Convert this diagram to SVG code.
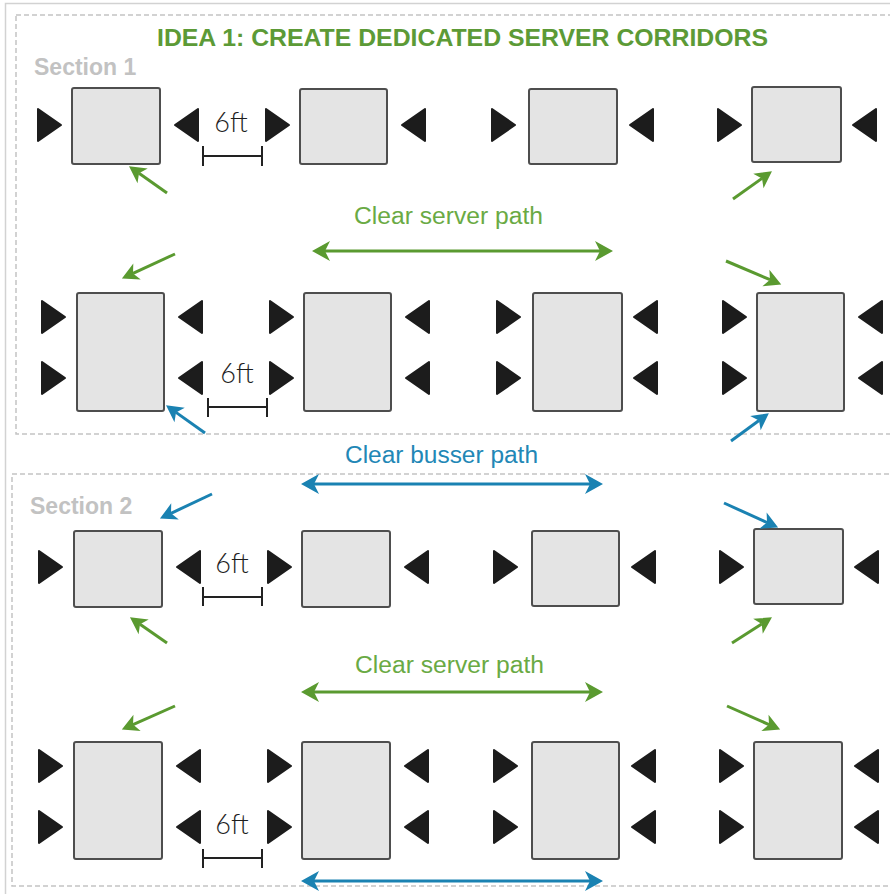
<svg xmlns="http://www.w3.org/2000/svg" width="890" height="894" viewBox="0 0 890 894">
  <style>
    .frame { fill: none; stroke: #d2d2d2; stroke-width: 1.5; }
    .section { fill: none; stroke: #c4c4c4; stroke-width: 1.5; stroke-dasharray: 5 3; }
    .table { fill: #e4e4e4; stroke: #4e4e4e; stroke-width: 2; }
    .chair { fill: #1c1c1c; stroke: #1c1c1c; stroke-width: 2; stroke-linejoin: round; }
    .title { font-family: "Liberation Sans", Arial, sans-serif; font-weight: bold; font-size: 24.5px; fill: #5c9a36; }
    .sect { font-family: "Liberation Sans", Arial, sans-serif; font-weight: bold; font-size: 23px; fill: #c2c2c2; }
    .lbl-g { font-family: "Liberation Sans", Arial, sans-serif; font-size: 23px; fill: #6aaa44; }
    .lbl-b { font-family: "Liberation Sans", Arial, sans-serif; font-size: 23px; fill: #2287b6; }
    .dim-t { font-family: Lato, "Open Sans", "Liberation Sans", sans-serif; font-weight: 300; font-size: 27px; fill: #1e1e1e; text-anchor: middle; }
    .dim { fill: none; stroke: #222; stroke-width: 2; }
    .g { stroke: #5a9a30; fill: none; stroke-width: 3; }
    .b { stroke: #1a82b2; fill: none; stroke-width: 3; }
  </style>
  <defs>
    <polygon id="cr" class="chair" points="0,-16 23,0 0,16"/>
    <polygon id="cl" class="chair" points="23,-16 0,0 23,16"/>
    <marker id="hg" markerUnits="userSpaceOnUse" markerWidth="20" markerHeight="20" refX="4" refY="0" viewBox="0 -9 16 18" orient="auto">
      <path d="M15,0 L0,-8 L4,0 L0,8 Z" fill="#5a9a30"/>
    </marker>
    <marker id="hb" markerUnits="userSpaceOnUse" markerWidth="20" markerHeight="20" refX="4" refY="0" viewBox="0 -9 16 18" orient="auto">
      <path d="M15,0 L0,-8 L4,0 L0,8 Z" fill="#1a82b2"/>
    </marker>
    <marker id="dg" markerUnits="userSpaceOnUse" markerWidth="22" markerHeight="22" refX="5" refY="0" viewBox="0 -11 19 22" orient="auto-start-reverse">
      <path d="M18,0 L0,-10 L5,0 L0,10 Z" fill="#5a9a30"/>
    </marker>
    <marker id="db" markerUnits="userSpaceOnUse" markerWidth="22" markerHeight="22" refX="5" refY="0" viewBox="0 -11 19 22" orient="auto-start-reverse">
      <path d="M18,0 L0,-10 L5,0 L0,10 Z" fill="#1a82b2"/>
    </marker>
  </defs>

  <!-- page frame and section outlines -->
  <rect class="frame" x="5.5" y="3.5" width="900" height="900"/>
  <rect class="section" x="16" y="15" width="900" height="419"/>
  <rect class="section" x="12" y="474" width="900" height="412"/>

  <text class="title" x="157" y="46" textLength="611" lengthAdjust="spacingAndGlyphs">IDEA 1: CREATE DEDICATED SERVER CORRIDORS</text>
  <text class="sect" x="34" y="75">Section 1</text>
  <text class="sect" x="30" y="514">Section 2</text>

  <!-- Section 1, row 1: four-tops -->
  <g id="s1-t1"><rect class="table" x="72" y="88" width="88" height="76" rx="2"/><use href="#cr" x="38" y="125"/><use href="#cl" x="175" y="125"/></g>
  <g id="s1-t2"><rect class="table" x="300" y="89" width="87" height="75" rx="2"/><use href="#cr" x="266" y="125"/><use href="#cl" x="402" y="125"/></g>
  <g id="s1-t3"><rect class="table" x="529" y="89" width="88" height="75" rx="2"/><use href="#cr" x="492" y="125"/><use href="#cl" x="630" y="125"/></g>
  <g id="s1-t4"><rect class="table" x="752" y="87" width="89" height="75" rx="2"/><use href="#cr" x="718" y="125"/><use href="#cl" x="853" y="125"/></g>

  <!-- Section 1, row 2: long tables -->
  <g id="s1-t5"><rect class="table" x="77" y="293" width="87" height="118" rx="2"/><use href="#cr" x="42" y="317"/><use href="#cr" x="42" y="378"/><use href="#cl" x="179" y="317"/><use href="#cl" x="179" y="378"/></g>
  <g id="s1-t6"><rect class="table" x="304" y="293" width="87" height="118" rx="2"/><use href="#cr" x="270" y="317"/><use href="#cr" x="270" y="378"/><use href="#cl" x="406" y="317"/><use href="#cl" x="406" y="378"/></g>
  <g id="s1-t7"><rect class="table" x="533" y="293" width="89" height="118" rx="2"/><use href="#cr" x="497" y="317"/><use href="#cr" x="497" y="378"/><use href="#cl" x="634" y="317"/><use href="#cl" x="634" y="378"/></g>
  <g id="s1-t8"><rect class="table" x="757" y="293" width="87" height="118" rx="2"/><use href="#cr" x="723" y="317"/><use href="#cr" x="723" y="378"/><use href="#cl" x="859" y="317"/><use href="#cl" x="859" y="378"/></g>

  <!-- Section 2, row 3 -->
  <g id="s2-t1"><rect class="table" x="74" y="531" width="88" height="76" rx="2"/><use href="#cr" x="39" y="567"/><use href="#cl" x="177" y="567"/></g>
  <g id="s2-t2"><rect class="table" x="302" y="531" width="88" height="76" rx="2"/><use href="#cr" x="268" y="567"/><use href="#cl" x="405" y="567"/></g>
  <g id="s2-t3"><rect class="table" x="532" y="531" width="87" height="75" rx="2"/><use href="#cr" x="494" y="567"/><use href="#cl" x="632" y="567"/></g>
  <g id="s2-t4"><rect class="table" x="754" y="529" width="89" height="75" rx="2"/><use href="#cr" x="720" y="567"/><use href="#cl" x="855" y="567"/></g>

  <!-- Section 2, row 4 -->
  <g id="s2-t5"><rect class="table" x="74" y="742" width="88" height="117" rx="2"/><use href="#cr" x="39" y="766"/><use href="#cr" x="39" y="827"/><use href="#cl" x="177" y="766"/><use href="#cl" x="177" y="827"/></g>
  <g id="s2-t6"><rect class="table" x="302" y="742" width="88" height="117" rx="2"/><use href="#cr" x="268" y="766"/><use href="#cr" x="268" y="827"/><use href="#cl" x="405" y="766"/><use href="#cl" x="405" y="827"/></g>
  <g id="s2-t7"><rect class="table" x="532" y="742" width="87" height="117" rx="2"/><use href="#cr" x="494" y="766"/><use href="#cr" x="494" y="827"/><use href="#cl" x="632" y="766"/><use href="#cl" x="632" y="827"/></g>
  <g id="s2-t8"><rect class="table" x="754" y="742" width="88" height="117" rx="2"/><use href="#cr" x="720" y="766"/><use href="#cr" x="720" y="827"/><use href="#cl" x="855" y="766"/><use href="#cl" x="855" y="827"/></g>

  <!-- 6ft spacing dimensions -->
  <g id="dims">
    <text class="dim-t" x="231" y="132">6ft</text>
    <path class="dim" d="M203,156 H262 M203,146 V166 M262,146 V166"/>
    <text class="dim-t" x="237" y="383">6ft</text>
    <path class="dim" d="M208,407 H267 M208,398 V417 M267,398 V417"/>
    <text class="dim-t" x="232" y="573">6ft</text>
    <path class="dim" d="M203,597 H262 M203,587 V606 M262,587 V606"/>
    <text class="dim-t" x="232" y="834">6ft</text>
    <path class="dim" d="M203,858 H262 M203,849 V868 M262,849 V868"/>
  </g>

  <!-- path labels -->
  <text class="lbl-g" x="354" y="224" textLength="189" lengthAdjust="spacingAndGlyphs">Clear server path</text>
  <text class="lbl-b" x="345" y="463" textLength="193" lengthAdjust="spacingAndGlyphs">Clear busser path</text>
  <text class="lbl-g" x="355" y="673" textLength="189" lengthAdjust="spacingAndGlyphs">Clear server path</text>

  <!-- connectors: corridors and flow arrows -->
  <g id="connectors">
    <line class="g" x1="325" y1="251" x2="600" y2="251" marker-start="url(#dg)" marker-end="url(#dg)"/>
    <line class="b" x1="314" y1="484" x2="590" y2="484" marker-start="url(#db)" marker-end="url(#db)"/>
    <line class="g" x1="314" y1="692" x2="590" y2="692" marker-start="url(#dg)" marker-end="url(#dg)"/>
    <line class="b" x1="314" y1="881" x2="590" y2="881" marker-start="url(#db)" marker-end="url(#db)"/>

    <line class="g" x1="167" y1="193" x2="139" y2="173.3" marker-end="url(#hg)"/>
    <line class="g" x1="733" y1="199" x2="762" y2="178.4" marker-end="url(#hg)"/>
    <line class="g" x1="175" y1="254" x2="133" y2="273.4" marker-end="url(#hg)"/>
    <line class="g" x1="726" y1="261" x2="770" y2="279.7" marker-end="url(#hg)"/>
    <line class="b" x1="205" y1="433" x2="176" y2="412.4" marker-end="url(#hb)"/>
    <line class="b" x1="731" y1="441" x2="759" y2="420.5" marker-end="url(#hb)"/>
    <line class="b" x1="212" y1="494" x2="171" y2="513.3" marker-end="url(#hb)"/>
    <line class="b" x1="724" y1="503" x2="767" y2="522.5" marker-end="url(#hb)"/>
    <line class="g" x1="167" y1="643" x2="140" y2="624.3" marker-end="url(#hg)"/>
    <line class="g" x1="732" y1="643" x2="761.7" y2="623.9" marker-end="url(#hg)"/>
    <line class="g" x1="175" y1="706" x2="133" y2="724.6" marker-end="url(#hg)"/>
    <line class="g" x1="727" y1="706" x2="769" y2="724.6" marker-end="url(#hg)"/>
  </g>
</svg>
